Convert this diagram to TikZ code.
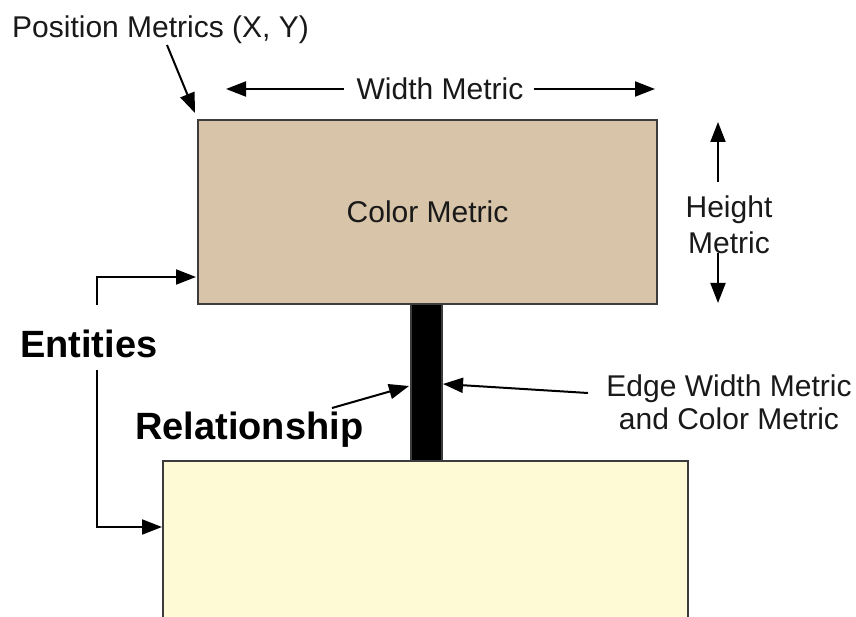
\documentclass[tikz,border=0pt]{standalone}
\usepackage{fontspec}
\setmainfont{Liberation Sans}
\usetikzlibrary{arrows.meta}
\definecolor{tanfill}{RGB}{216,196,168}
\definecolor{creamfill}{RGB}{255,250,214}
\definecolor{boxline}{RGB}{60,60,60}
\definecolor{txt}{RGB}{25,25,25}
\begin{document}
\begin{tikzpicture}[x=1pt,y=-1pt,
  lbl/.style={font=\fontsize{30}{34}\selectfont, inner sep=0pt, text=txt},
  blbl/.style={font=\fontsize{38}{42}\selectfont\bfseries, inner sep=0pt},
  arr/.style={line width=2pt, -{Triangle[length=20pt,width=15pt]}},
  box/.style={draw=boxline, line width=1.6pt, inner sep=0pt, outer sep=0pt, anchor=north west}]
\useasboundingbox[fill=white] (0,0) rectangle (856,617);
\clip (0,0) rectangle (856,617);
% boxes
\node[box, fill=tanfill, minimum width=459pt, minimum height=184pt] (ent1) at (198,120) {};
\node[box, fill=creamfill, minimum width=525pt, minimum height=220pt] (ent2) at (163,461) {};
\node[box, fill=black, minimum width=31pt, minimum height=157pt] (edge) at (411,304) {};
% texts
\node[lbl, anchor=west] (pos) at (12,30) {Position Metrics (X, Y)};
\node[lbl] (wm) at (440,89) {Width Metric};
\node[lbl] (cm) at (ent1.center) {Color Metric};
\node[lbl, align=center, font=\fontsize{30}{36}\selectfont] (hm) at (729,225) {Height\\Metric};
\node[blbl, anchor=west] (entl) at (20,344) {Entities};
\node[blbl, anchor=west] (rel) at (135,430) {Relationship};
\node[lbl, align=center, font=\fontsize{30}{33}\selectfont] (ewm) at (729,402) {Edge Width Metric\\and Color Metric};
% connector end points
\coordinate (wl) at (226,89);
\coordinate (wr) at (655,89);
\coordinate (hu0) at (718,182);
\coordinate (hu) at (718,122);
\coordinate (hd0) at (718,253);
\coordinate (hd) at (718,303);
\coordinate (p0) at (167,45);
\coordinate (p1) at (195,113);
\coordinate (e1s) at (97,305);
\coordinate (e1t) at (196,277);
\coordinate (e2s) at (97,370);
\coordinate (e2t) at (162,527);
\coordinate (r0) at (332,408);
\coordinate (r1) at (409,386);
\coordinate (ew0) at (588,393);
\coordinate (ew1) at (443,384);
% arrows
\draw[arr] ([xshift=-12pt]wm.west) -- (wl);
\draw[arr] ([xshift=10pt]wm.east) -- (wr);
\draw[arr] (hu0) -- (hu);
\draw[arr] (hd0) -- (hd);
\draw[arr] (p0) -- (p1);
\draw[arr] (e1s) |- (e1t);
\draw[arr] (e2s) |- (e2t);
\draw[arr] (r0) -- (r1);
\draw[arr] (ew0) -- (ew1);
\end{tikzpicture}
\end{document}
